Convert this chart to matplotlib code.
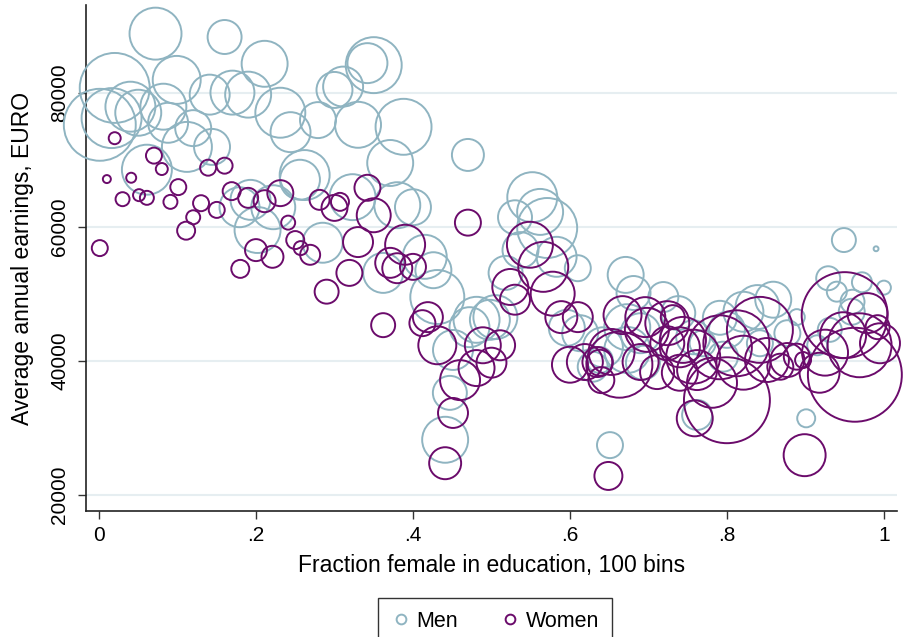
import numpy as np
import matplotlib
matplotlib.use("Agg")
import matplotlib.pyplot as plt
from matplotlib.lines import Line2D

plt.rcParams['font.family'] = ['Liberation Sans', 'DejaVu Sans']

# men: fraction female, average earnings, bin weight
men_x = [0.072, 0.160, 0.211, 0.020, 0.099, 0.040, 0.001, 0.016, 0.050, 0.082,
         0.141, 0.170, 0.190, 0.088, 0.120, 0.112, 0.144, 0.061, 0.231, 0.244,
         0.279, 0.300, 0.311, 0.350, 0.342, 0.330, 0.388, 0.371, 0.262, 0.256,
         0.193, 0.179, 0.222, 0.202, 0.323, 0.380, 0.400, 0.285, 0.470, 0.362,
         0.415, 0.426, 0.431, 0.481, 0.498, 0.472, 0.451, 0.447, 0.441, 0.552,
         0.530, 0.571, 0.562, 0.537, 0.583, 0.610, 0.518, 0.671, 0.681, 0.719,
         0.505, 0.596, 0.613, 0.673, 0.690, 0.642, 0.673, 0.693, 0.629, 0.757,
         0.738, 0.821, 0.839, 0.859, 0.889, 0.960, 0.959, 0.949, 0.990, 0.929,
         0.940, 0.972, 1.000, 0.769, 0.915, 0.901, 0.762, 0.795, 0.842, 0.877,
         0.651, 0.638, 0.800, 0.791, 0.931]
men_y = [88800, 88300, 84300, 80700, 81900, 77900, 75200, 76200, 77000, 77900,
         79700, 80000, 79700, 75500, 74700, 71900, 71900, 68500, 77000, 74100,
         75900, 80400, 80900, 84100, 84400, 75200, 74900, 69500, 67700, 67000,
         64000, 62900, 62900, 59500, 64400, 63200, 62900, 57600, 70700, 53100,
         55500, 53500, 49500, 46100, 46100, 45000, 41600, 35200, 28200, 64400,
         61400, 59800, 62200, 56500, 55500, 53800, 53100, 52800, 50100, 49500,
         46500, 44900, 44100, 45000, 44100, 42000, 41600, 39700, 39100, 43500,
         47100, 47300, 48000, 49100, 46500, 48800, 47300, 58000, 56700, 52300,
         50300, 51700, 50900, 42600, 42300, 31400, 31900, 40600, 42600, 44100,
         27400, 40100, 44600, 46400, 44600]
men_w = [676, 289, 529, 1225, 576, 625, 1296, 900, 529, 529,
         400, 484, 529, 400, 324, 625, 324, 625, 625, 400,
         324, 324, 400, 784, 400, 529, 784, 529, 625, 400,
         400, 400, 484, 529, 529, 529, 324, 400, 256, 400,
         484, 324, 729, 529, 400, 400, 400, 289, 529, 625,
         289, 900, 529, 324, 400, 169, 289, 324, 289, 225,
         484, 324, 324, 529, 400, 400, 529, 289, 225, 289,
         289, 400, 484, 324, 64, 144, 169, 144, 6, 144,
         100, 100, 49, 169, 100, 81, 225, 225, 169, 169,
         169, 169, 324, 289, 144]

# women
women_x = [0.020, 0.070, 0.080, 0.010, 0.041, 0.101, 0.030, 0.051, 0.061, 0.091,
           0.139, 0.160, 0.130, 0.150, 0.120, 0.111, 0.001, 0.169, 0.190, 0.211,
           0.231, 0.241, 0.250, 0.257, 0.269, 0.200, 0.221, 0.180, 0.281, 0.307,
           0.300, 0.342, 0.350, 0.470, 0.330, 0.390, 0.319, 0.290, 0.371, 0.380,
           0.400, 0.362, 0.419, 0.412, 0.431, 0.489, 0.511, 0.481, 0.500, 0.460,
           0.451, 0.441, 0.549, 0.566, 0.524, 0.530, 0.578, 0.589, 0.610, 0.600,
           0.619, 0.635, 0.640, 0.649, 0.667, 0.653, 0.663, 0.690, 0.696, 0.698,
           0.711, 0.724, 0.731, 0.740, 0.740, 0.757, 0.744, 0.759, 0.781, 0.791,
           0.812, 0.842, 0.821, 0.851, 0.800, 0.877, 0.889, 0.918, 0.925, 0.899,
           0.950, 0.963, 0.979, 0.992, 0.969, 0.995, 0.948, 0.762, 0.724, 0.638,
           0.868, 0.897]
women_y = [73200, 70600, 68600, 67100, 67300, 65900, 64100, 64700, 64300, 63700,
           68800, 69100, 63500, 62500, 61400, 59400, 56800, 65300, 64300, 63800,
           65000, 60600, 58000, 56800, 55800, 56500, 55500, 53700, 64000, 63700,
           62800, 65800, 61700, 60600, 57700, 57300, 53100, 50300, 54600, 53800,
           54000, 45300, 46500, 45600, 42300, 42300, 42300, 38900, 39700, 37100,
           32200, 24700, 57300, 54000, 51000, 49100, 50000, 46500, 46500, 39400,
           39800, 39800, 37100, 22800, 46800, 41300, 39400, 39800, 46500, 44600,
           38300, 45600, 46500, 42000, 38200, 40600, 43100, 31400, 36700, 42000,
           42600, 44600, 39700, 40100, 34100, 40100, 40600, 38200, 41200, 25900,
           46800, 37900, 47100, 45000, 42300, 42600, 43800, 38600, 42600, 39700,
           39100, 40100]
women_w = [36, 64, 36, 16, 25, 64, 49, 36, 49, 49,
           64, 64, 64, 64, 49, 81, 64, 81, 100, 121,
           169, 49, 81, 49, 100, 121, 121, 81, 100, 81,
           169, 169, 289, 169, 225, 400, 169, 144, 225, 225,
           169, 144, 225, 169, 361, 324, 225, 324, 225, 400,
           225, 256, 529, 625, 324, 225, 484, 256, 225, 324,
           324, 225, 169, 196, 361, 529, 1089, 324, 400, 484,
           289, 484, 144, 400, 324, 729, 529, 324, 625, 1024,
           1089, 1089, 729, 484, 1849, 289, 169, 400, 529, 441,
           1849, 2209, 400, 144, 1024, 400, 529, 400, 289, 169,
           169, 64]

x_ticks = [0, 0.2, 0.4, 0.6, 0.8, 1.0]
x_labels = ["0", ".2", ".4", ".6", ".8", "1"]
y_ticks = [20000, 40000, 60000, 80000]

MEN_COLOR = '#8fb4c1'
WOMEN_COLOR = '#6b0b6b'
SIZE_SCALE = 2.07

fig = plt.figure(figsize=(9.06, 6.37), dpi=100)
ax = fig.add_axes([0.0949, 0.1978, 0.8951, 0.7944])

ax.scatter(men_x, men_y, s=np.array(men_w) * SIZE_SCALE, facecolors='none',
           edgecolors=MEN_COLOR, linewidths=1.4, zorder=3, clip_on=False)
ax.scatter(women_x, women_y, s=np.array(women_w) * SIZE_SCALE, facecolors='none',
           edgecolors=WOMEN_COLOR, linewidths=1.4, zorder=4, clip_on=False)

ax.set_xlim(-0.0166, 1.0166)
ax.set_ylim(17570, 93080)
ax.set_xticks(x_ticks)
ax.set_xticklabels(x_labels)
ax.set_yticks(y_ticks)
ax.set_yticklabels([str(v) for v in y_ticks], rotation=90, va='center')
ax.grid(True, axis='y', color='#e6eef1', linewidth=1.5, zorder=0)
ax.tick_params(axis='both', labelsize=15, length=6, width=1, color='#333333')
ax.tick_params(axis='x', pad=5)
ax.tick_params(axis='y', pad=6)

for side in ['top', 'right']:
    ax.spines[side].set_visible(False)
for side in ['left', 'bottom']:
    ax.spines[side].set_linewidth(1.2)
    ax.spines[side].set_color('#222222')

ax.set_xlabel('Fraction female in education, 100 bins', fontsize=16.5, labelpad=6)
ax.set_ylabel('Average annual earnings, EURO', fontsize=16.5, labelpad=12)

handles = [
    Line2D([], [], marker='o', linestyle='none', markersize=7, markerfacecolor='none',
           markeredgecolor=MEN_COLOR, markeredgewidth=1.4, label='Men'),
    Line2D([], [], marker='o', linestyle='none', markersize=7, markerfacecolor='none',
           markeredgecolor=WOMEN_COLOR, markeredgewidth=1.4, label='Women'),
]
leg = fig.legend(handles=handles, loc='upper center', bbox_to_anchor=(495 / 906, 1 - 587 / 637),
                 ncol=2, fontsize=15.5, frameon=True, fancybox=False, edgecolor='black',
                 handletextpad=0.25, columnspacing=2.0, borderpad=0.6, handlelength=0.9)
leg.get_frame().set_linewidth(1.0)

fig.savefig('out.png', dpi=100)
